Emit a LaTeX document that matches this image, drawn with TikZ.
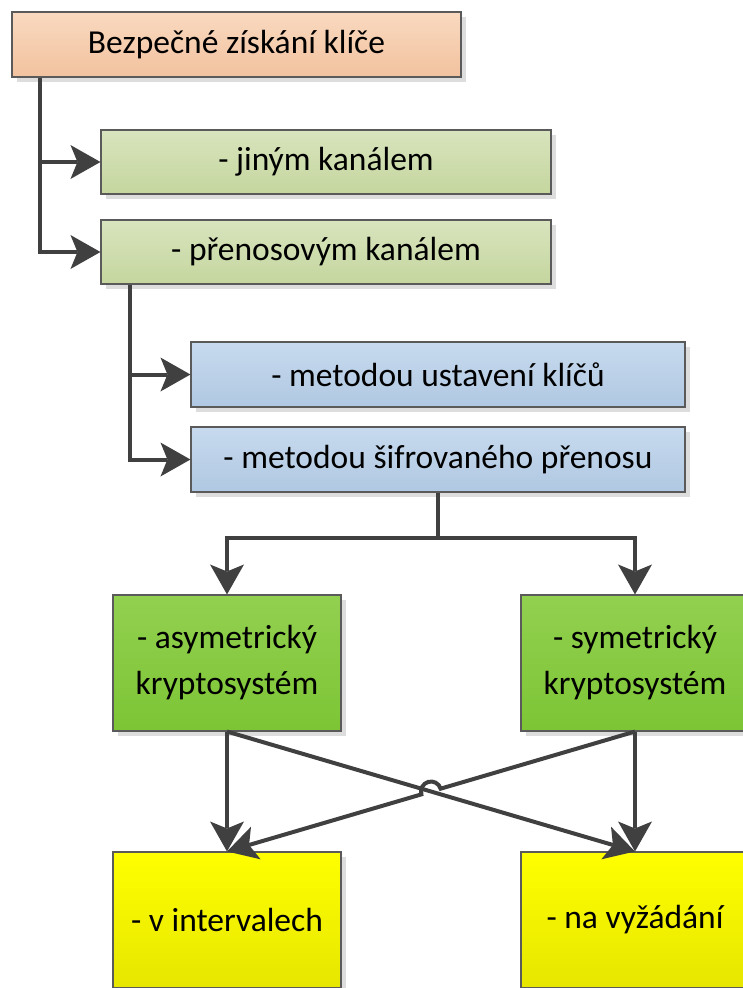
\documentclass[tikz,border=0pt]{standalone}
\usepackage{fontspec}
\setmainfont{Carlito}
\usetikzlibrary{arrows.meta,calc,shadows,intersections}
\definecolor{bordergray}{HTML}{5A5A5A}
\definecolor{linegray}{HTML}{404040}
\definecolor{shadowgray}{HTML}{DDDDDD}
\definecolor{peachT}{HTML}{F9D9C0}
\definecolor{peachB}{HTML}{F2C29E}
\definecolor{oliveT}{HTML}{D8E4BE}
\definecolor{oliveB}{HTML}{C5D69E}
\definecolor{blueT}{HTML}{C7DAEE}
\definecolor{blueB}{HTML}{B0C8E2}
\definecolor{greenT}{HTML}{92D050}
\definecolor{greenB}{HTML}{7DC535}
\definecolor{yellowT}{HTML}{FFFF00}
\definecolor{yellowB}{HTML}{E6E600}
\begin{document}
\begin{tikzpicture}[x=1pt,y=-1pt,
  box/.style={draw=bordergray, line width=1.1pt, inner sep=0pt, align=center,
    font=\fontsize{33.5}{46}\selectfont,
    general shadow={fill=shadowgray, shadow xshift=5pt, shadow yshift=-5pt}},
  peach/.style={top color=peachT, bottom color=peachB},
  olive/.style={top color=oliveT, bottom color=oliveB},
  bluebox/.style={top color=blueT, bottom color=blueB},
  greenbox/.style={top color=greenT, bottom color=greenB},
  yellowbox/.style={top color=yellowT, bottom color=yellowB},
  wide/.style={minimum width=450pt, minimum height=64pt},
  wider/.style={minimum width=494pt, minimum height=65pt},
  square/.style={minimum width=228pt, minimum height=136pt},
  plain/.style={draw=linegray, line width=4pt},
  tipstyle/.tip={Triangle[length=30pt,width=34pt,fill=linegray]},
  conn/.style={draw=linegray, line width=4pt, -{Stealth[length=30pt,width=34pt,inset=7pt,line width=0pt,fill=linegray]}}
]
\useasboundingbox (0,0) rectangle (742,988);

\node[box, peach, minimum width=449pt, minimum height=65pt] (top) at (236.5,44.5) {Bezpečné získání klíče};
\node[box, olive, wide] (b2) at (326,162) {- jiným kanálem};
\node[box, olive, wide] (b3) at (326,252) {- přenosovým kanálem};
\node[box, bluebox, wider] (b4) at (438,374.5) {- metodou ustavení klíčů};
\node[box, bluebox, wider] (b5) at (438,459.5) {- metodou šifrovaného přenosu};
\node[box, greenbox, square] (g1) at (227,663) {- asymetrický\\kryptosystém};
\node[box, greenbox, square] (g2) at (635,663) {- symetrický\\kryptosystém};
\node[box, yellowbox, square] (y1) at (227,920) {- v intervalech};
\node[box, yellowbox, square] (y2) at (635,920) {- na vyžádání};

\coordinate (t1) at ($(top.south west)+(29,0)$);
\draw[conn] (t1) |- (b2);
\draw[conn] (t1) |- (b3);

\coordinate (t2) at ($(b3.south west)+(30,0)$);
\draw[conn] (t2) |- (b4);
\draw[conn] (t2) |- (b5);

\coordinate (m) at ($(b5.south)+(0,45)$);
\draw[plain] (b5.south) -- (m);
\draw[conn] (m) -| (g1.north);
\draw[conn] (m) -| (g2.north);

\draw[conn] (g1.south) -- (y1.north);
\draw[conn] (g2.south) -- (y2.north);
\draw[conn] (g1.south) -- (y2.north);
\path[name path=l1] (g1.south) -- (y2.north);
\path[name path=l2] (g2.south) -- (y1.north);
\path[name intersections={of=l1 and l2, by=X}];
\coordinate (A) at ($(X)!10pt!(g2.south)$);
\draw[conn] (g2.south) -- (A) arc[start angle=-16.5, end angle=-196.5, radius=10] -- (y1.north);
\end{tikzpicture}
\end{document}
